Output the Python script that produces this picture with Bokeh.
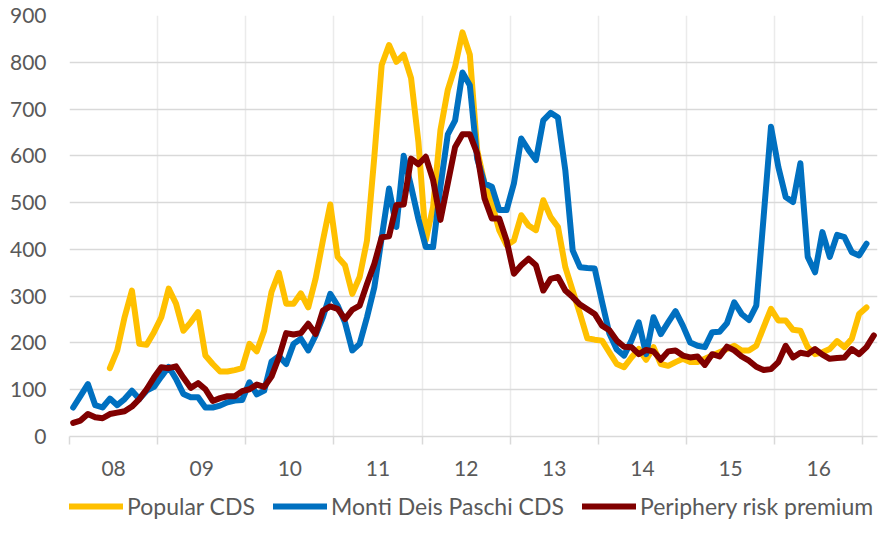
import numpy as np
from bokeh.plotting import figure
from bokeh.layouts import column
from bokeh.models import ColumnDataSource, FixedTicker, Range1d, Legend, LegendItem
from bokeh.embed import file_html
from bokeh.resources import INLINE

# Monthly data, Jan 2008 .. Feb 2017 (110 months)
year_labels = ["08", "09", "10", "11", "12", "13", "14", "15", "16"]
y_ticks = [0, 100, 200, 300, 400, 500, 600, 700, 800, 900]
series_names = ["Popular CDS", "Monti Deis Paschi CDS", "Periphery risk premium"]

popular_cds = [None, None, None, None, None,
    146, 184, 255, 312, 198, 196, 223,
    255, 316, 284, 226, 244, 266, 173, 155, 139, 139, 142, 146,
    198, 182, 226, 309, 350, 284, 284, 306, 276, 337, 419, 496,
    384, 366, 305, 341, 419, 598, 794, 837, 801, 816, 766, 630,
    420, 491, 655, 741, 791, 864, 816, 612, 541, 498, 441, 409,
    419, 473, 451, 441, 505, 469, 448, 362, 312, 262, 210, 207,
    205, 180, 155, 148, 169, 187, 164, 191, 155, 151, 159, 166,
    159, 159, 166, 173, 180, 187, 194, 184, 184, 194, 234, 273,
    248, 248, 228, 226, 191, 176, 180, 187, 204, 191, 209, 262,
    276, None]

monti_cds = [62, 87, 112, 67, 62, 81, 67, 80, 98, 80, 98, 106,
    128, 149, 123, 91, 84, 84, 62, 62, 66, 73, 77, 78,
    116, 90, 98, 160, 172, 155, 198, 209, 184, 216, 255, 305,
    280, 244, 184, 198, 255, 319, 425, 530, 448, 600, 535, 465,
    405, 405, 534, 646, 676, 778, 751, 594, 541, 534, 484, 484,
    541, 637, 612, 591, 676, 692, 682, 569, 398, 362, 360, 359,
    288, 220, 186, 173, 205, 244, 176, 255, 219, 244, 268, 237,
    201, 194, 191, 223, 224, 242, 287, 262, 249, 280, 470, 662,
    576, 512, 501, 584, 384, 351, 437, 384, 431, 426, 394, 387,
    412, None]

periphery_premium = [29, 34, 48, 41, 39, 48, 51, 54, 64, 80, 101, 126,
    148, 146, 150, 126, 104, 114, 101, 76, 82, 86, 86, 97,
    101, 111, 106, 128, 169, 221, 218, 221, 241, 219, 269, 278,
    273, 251, 271, 280, 326, 369, 426, 428, 495, 496, 594, 582,
    598, 548, 463, 541, 619, 646, 646, 605, 509, 466, 466, 419,
    348, 366, 380, 366, 312, 337, 341, 312, 298, 282, 272, 262,
    237, 227, 205, 192, 191, 176, 185, 182, 164, 182, 184, 173,
    169, 171, 153, 176, 171, 192, 184, 171, 162, 149, 142, 144,
    159, 194, 169, 179, 176, 187, 175, 166, 168, 169, 187, 176,
    191, 216]

colors = ["#FFC000", "#0070C0", "#800000"]
cols = ["popular", "monti", "peri"]

n = len(periphery_premium)
xs = np.arange(n) + 0.5
src = ColumnDataSource(dict(
    x=xs,
    popular=np.array(popular_cds, dtype=float),
    monti=np.array(monti_cds, dtype=float),
    peri=np.array(periphery_premium, dtype=float),
))

FONT = "Lato"
TXT = "#595959"
GRID = "#D9D9D9"
LW = 6

p = figure(width=878, height=484, output_backend="svg",
           toolbar_location=None,
           x_range=Range1d(0, n), y_range=Range1d(0, 900),
           min_border_left=69, min_border_right=1, min_border_top=15,
           min_border_bottom=48)
p.outline_line_color = None
p.background_fill_color = "white"

for col, c in zip(cols, colors):
    p.line("x", col, source=src, line_color=c, line_width=LW,
           line_join="round", line_cap="round")

# x axis: labels mid-year, tick marks / grid at year boundaries
mid = [12 * k + 6 for k in range(len(year_labels))]
bounds = [12 * k for k in range(len(year_labels) + 1)]
p.xaxis.ticker = FixedTicker(ticks=mid, minor_ticks=bounds)
p.xaxis.major_label_overrides = {m: lab for m, lab in zip(mid, year_labels)}
p.xaxis.major_tick_line_color = None
p.xaxis.major_tick_out = 0
p.xaxis.major_tick_in = 0
p.xaxis.minor_tick_out = 8
p.xaxis.minor_tick_in = 0
p.xaxis.minor_tick_line_color = GRID
p.xaxis.minor_tick_line_width = 1.5
p.xaxis.axis_line_color = GRID
p.xaxis.axis_line_width = 1.5
p.xaxis.major_label_standoff = 16
p.xaxis.major_label_text_font = FONT
p.xaxis.major_label_text_font_size = "21px"
p.xaxis.major_label_text_color = TXT

p.yaxis.ticker = FixedTicker(ticks=y_ticks)
p.yaxis.major_label_overrides = {t: str(t) for t in y_ticks}
p.yaxis.major_tick_line_color = None
p.yaxis.major_tick_out = 0
p.yaxis.major_tick_in = 0
p.yaxis.minor_tick_line_color = None
p.yaxis.axis_line_color = None
p.yaxis.major_label_standoff = 23
p.yaxis.major_label_text_font = FONT
p.yaxis.major_label_text_font_size = "21px"
p.yaxis.major_label_text_color = TXT

p.ygrid.grid_line_color = GRID
p.ygrid.grid_line_width = 1.5
p.xgrid.grid_line_color = None
p.xgrid.minor_grid_line_color = "#EBEBEB"
p.xgrid.minor_grid_line_width = 1.5

# Legend strip below the chart (same series drawn out of view as legend proxies)
pl = figure(width=878, height=36, output_backend="svg", toolbar_location=None,
            x_range=Range1d(0, n), y_range=Range1d(-2, -1),
            x_axis_type=None, y_axis_type=None,
            min_border_left=69, min_border_right=1, min_border_top=0,
            min_border_bottom=0)
pl.outline_line_color = None
pl.grid.visible = False
items = []
for name, col, c in zip(series_names, cols, colors):
    r = pl.line("x", col, source=src, line_color=c, line_width=LW,
                line_cap="round")
    items.append(LegendItem(label=name, renderers=[r]))

legend = Legend(items=items, orientation="horizontal", location=(0, 0))
legend.glyph_width = 54
legend.glyph_height = 20
legend.label_height = 20
legend.label_standoff = 4
legend.spacing = 18
legend.padding = 0
legend.margin = 0
legend.border_line_color = None
legend.background_fill_alpha = 0
legend.label_text_font = FONT
legend.label_text_font_size = "23px"
legend.label_text_color = TXT
pl.add_layout(legend, "center")

layout = column(p, pl, spacing=0)
open("out.html", "w").write(file_html(layout, INLINE))
